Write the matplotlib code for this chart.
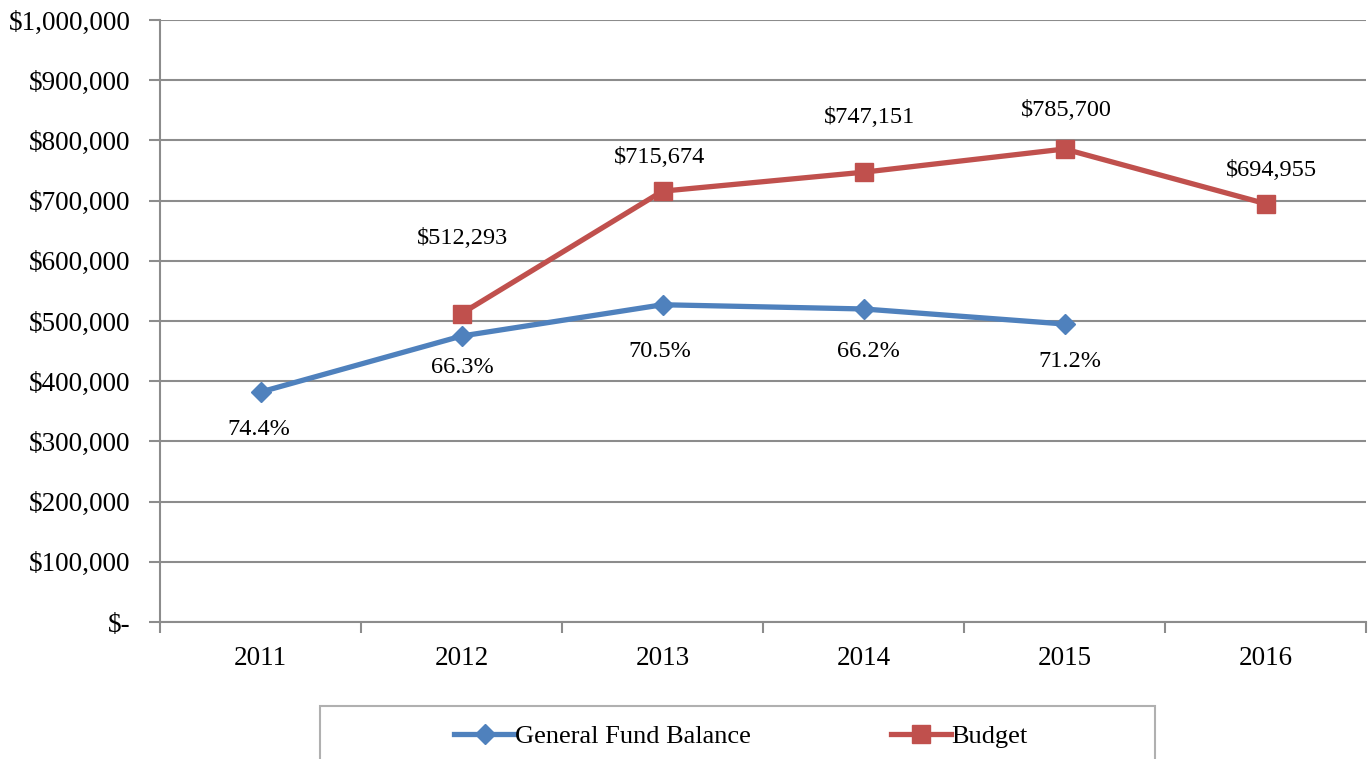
import matplotlib.pyplot as plt
from matplotlib.patches import Rectangle
from matplotlib.ticker import FuncFormatter

# данные
years = ['2011', '2012', '2013', '2014', '2015', '2016']
fund_balance = [382000, 475000, 527000, 520000, 495000]
fund_pct = ['74.4%', '66.3%', '70.5%', '66.2%', '71.2%']
budget = [512293, 715674, 747151, 785700, 694955]
budget_labels = ['$512,293', '$715,674', '$747,151', '$785,700', '$694,955']

# сдвиги подписей (в пикселях)
pct_offsets = [(-2, -37), (1, -31), (-3, -47), (5, -43), (5, -37)]
bud_offsets = [(1, 75), (-3, 34), (6, 55), (2, 39), (6, 33)]

plt.rcParams['font.family'] = ['Liberation Serif', 'DejaVu Serif']

fig = plt.figure(figsize=(13.72, 7.59), dpi=100)
ax = fig.add_axes([160 / 1372, 1 - 622 / 759, 1206 / 1372, 602 / 759])

x_fund = list(range(len(fund_balance)))
x_bud = list(range(1, 1 + len(budget)))

blue = '#4F81BD'
red = '#C0504D'

ax.plot(x_fund, fund_balance, color=blue, lw=3.8, marker='D', ms=10,
        label='General Fund Balance', zorder=3)
ax.plot(x_bud, budget, color=red, lw=3.8, marker='s', ms=12.5,
        label='Budget', zorder=3)

for x, y, t, off in zip(x_fund, fund_balance, fund_pct, pct_offsets):
    ax.annotate(t, (x, y), xytext=off, textcoords='offset pixels',
                ha='center', va='center', fontsize=17.5)
for x, y, t, off in zip(x_bud, budget, budget_labels, bud_offsets):
    ax.annotate(t, (x, y), xytext=off, textcoords='offset pixels',
                ha='center', va='center', fontsize=17.5)

ax.set_xlim(-0.5, 5.5)
ax.set_ylim(0, 1000000)
ax.set_yticks(range(0, 1000001, 100000))
ax.yaxis.set_major_formatter(FuncFormatter(
    lambda v, p: '$-' if v == 0 else f'${v:,.0f}'))
ax.set_xticks(range(len(years)))
ax.set_xticklabels(years)
ax.set_xticks([i - 0.5 for i in range(len(years) + 1)], minor=True)

ax.grid(axis='y', color='#8c8c8c', lw=1.5)
ax.set_axisbelow(True)
for s in ['top', 'right']:
    ax.spines[s].set_visible(False)
for s in ['left', 'bottom']:
    ax.spines[s].set_color('#8c8c8c')
    ax.spines[s].set_linewidth(1.5)

ax.tick_params(axis='y', length=8, width=1.5, color='#8c8c8c',
               labelsize=19.5, pad=13)
ax.tick_params(axis='x', which='major', length=0, labelsize=19.5, pad=17)
ax.tick_params(axis='x', which='minor', length=8, width=1.5, color='#8c8c8c')

# рамка легенды
fig.patches.append(Rectangle((320 / 1372, -0.05), 835 / 1372, 0.05 + 53 / 759,
                             transform=fig.transFigure, fill=False,
                             edgecolor='#b0b0b0', lw=1.5))
fig.legend(loc='center', bbox_to_anchor=(741 / 1372, 1 - 736 / 759), ncol=2,
           frameon=False, fontsize=19, handlelength=2.3, handletextpad=0.0,
           columnspacing=5.3)

fig.savefig('out.png', dpi=100)
